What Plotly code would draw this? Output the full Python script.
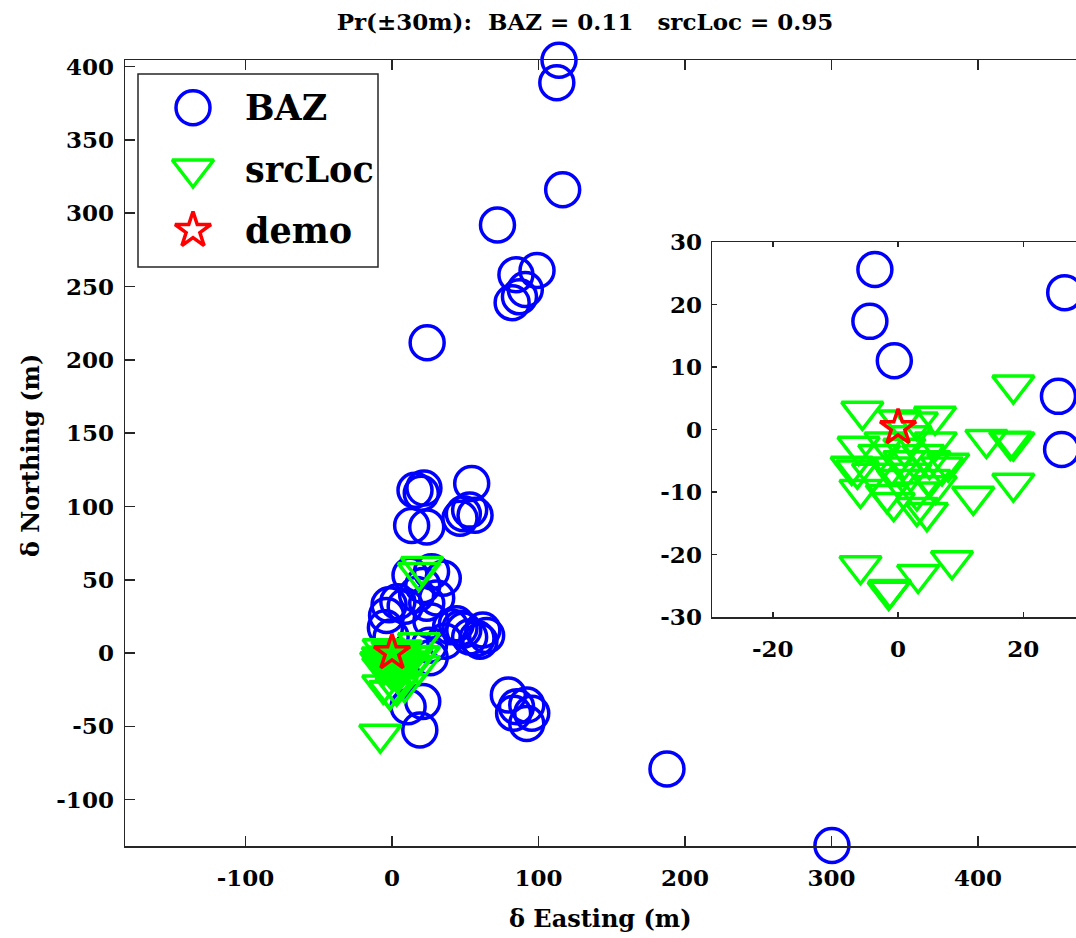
import plotly.graph_objects as go

# ---------------- data ----------------
TITLE = "Pr(±30m):\u00a0\u00a0BAZ = 0.11\u00a0\u00a0\u00a0srcLoc = 0.95"
X_TITLE = "δ Easting (m)"
Y_TITLE = "δ Northing (m)"
LEGEND_LABELS = ["BAZ", "srcLoc", "demo"]

BAZ_EAST = [114, 112.5, 116.5, 72, 84.6, 99, 91, 87, 82, 24,
            15.7, 21.8, 20, 13.4, 23.7, 54.4, 48.7, 53, 56.7, 46.4,
            12.3, 27, 35, 21, 30.5, 23.7, 16.8,
            -2, 4, 9,
            -3.7, -4.5, -0.6, 26.6, 25.6, 26.1,
            36, 40, 44, 46.4, 49, 53, 58, 62, 64.6, 60,
            21, 11, 19,
            79.4, 85, 92, 95.4, 92, 83,
            187.7, 300.3]
BAZ_NORTH = [404.3, 389, 316, 292, 258, 261, 248, 243, 239, 211.6,
             111, 112.5, 109, 87, 86, 115.7, 95, 97.5, 94, 92,
             53, 55.5, 51, 46, 37.5, 34, 40,
             33, 35, 32,
             25.6, 17.3, 11, 21.9, 5.3, -3.2,
             8, 18, 20, 17, 15.7, 11, 10, 15.7, 12, 8,
             -33, -36.6, -52.5,
             -28.6, -36.6, -35.5, -41, -48, -41,
             -79, -131.3]

SRC_EAST = [20.5, 18.4, -8,
            18.4, -5.7, 0.3, 5.9, 3, 14.1, 17.9, 18.4, -6.3, 8,
            -7.4, -6.5, 18.4, 12, -6, -6, -1.3, -1.5, 3.2, 8.6,
            4.6, 3, -0.7, -1.8, -3, -1, 1, 2, 4, 5,
            6, 7, 3, 0, -2, 5, 2, -4, 6, 1]
SRC_NORTH = [59, 55, -55.3,
             7.1, 2.9, 1.5, 2.1, 1.2, -1.6, -1.9, -2.0, -2.7, -5.4,
             -5.9, -6.5, -8.6, -10.7, -9.6, -21.8, -25.6, -25.9, -23.2, -21,
             -13.3, -12.5, -11.7, -10.4, -4, -6, -3, -7, -4, -8,
             -2, -6, -10, -8, -2, -5, -1, -7, -9, -5]

DEMO_EAST = [0.0]
DEMO_NORTH = [0.3]

MAIN_X_TICKS = [-100, 0, 100, 200, 300, 400]
MAIN_Y_TICKS = [-100, -50, 0, 50, 100, 150, 200, 250, 300, 350, 400]
INSET_X_TICKS = [-20, 0, 20]
INSET_Y_TICKS = [-30, -20, -10, 0, 10, 20, 30]

# ---------------- style ----------------
AX_COLOR = "#262626"
TICK_FONT = dict(family="DejaVu Serif", size=23, color="black", weight="bold")
BLUE, GREEN, RED = "#0000FF", "#00FF00", "#FF0000"

W, H = 1076, 938
L, R, T, B = 125, 0, 60, 92


def labels(vals):
    return [str(v) for v in vals]


fig = go.Figure()

series = [
    (BAZ_EAST, BAZ_NORTH, "circle-open", BLUE, 34),
    (SRC_EAST, SRC_NORTH, "triangle-down-open", GREEN, 36),
    (DEMO_EAST, DEMO_NORTH, "star-open", RED, 27),
]
LW = 3.5

for xa, ya in (("x", "y"), ("x2", "y2")):
    for ex, ny, sym, col, sz in series:
        fig.add_trace(go.Scatter(
            x=ex, y=ny, mode="markers", xaxis=xa, yaxis=ya,
            marker=dict(symbol=sym, color=col, size=sz, line=dict(width=LW, color=col)),
            cliponaxis=False, showlegend=False, hoverinfo="skip"))

# custom legend glyphs (large markers like the reference)
n = len(LEGEND_LABELS)
for i, (lab, (ex, ny, sym, col, sz)) in enumerate(zip(LEGEND_LABELS, series)):
    fig.add_trace(go.Scatter(
        x=[0], y=[n - 1 - i], mode="markers", xaxis="x3", yaxis="y3",
        marker=dict(symbol=sym, color=col, size=sz, line=dict(width=LW, color=col)),
        cliponaxis=False, showlegend=False, hoverinfo="skip"))
    fig.add_annotation(text=lab, xref="paper", yref="y3", x=(243 - L) / 951, y=n - 1 - i,
                       xanchor="left", yanchor="middle", showarrow=False,
                       font=dict(family="DejaVu Serif", size=35, color="black", weight="bold"))

axis_common = dict(showline=True, linecolor=AX_COLOR, linewidth=1.5, ticks="inside",
                   tickcolor=AX_COLOR, tickwidth=1.5, showgrid=False, zeroline=False,
                   tickfont=TICK_FONT)

fig.update_layout(
    width=W, height=H,
    margin=dict(l=L, r=R, t=T, b=B, pad=0),
    paper_bgcolor="white", plot_bgcolor="white",
    showlegend=False,
    title=dict(text=TITLE, x=585 / W, y=1 - 22 / H, xanchor="center", yanchor="middle",
               font=dict(family="DejaVu Serif", size=23, color="black", weight="bold")),
    xaxis=dict(domain=[0, 1], range=[-182.25, 466.9], anchor="y", mirror="ticks", ticklen=10,
               tickvals=MAIN_X_TICKS, ticktext=labels(MAIN_X_TICKS), ticklabelstandoff=11,
               **axis_common),
    yaxis=dict(domain=[0, 1], range=[-131.6, 404.5], anchor="x", mirror=False, ticklen=10,
               tickvals=MAIN_Y_TICKS, ticktext=labels(MAIN_Y_TICKS), ticklabelstandoff=5,
               **axis_common),
    xaxis2=dict(domain=[(712 - L) / 951, 1.0], range=[-29.7, 28.4], anchor="y2", mirror="ticks",
                ticklen=5, tickvals=INSET_X_TICKS, ticktext=labels(INSET_X_TICKS),
                ticklabelstandoff=11, **axis_common),
    yaxis2=dict(domain=[(846 - 617) / 786, (846 - 242) / 786], range=[-30, 30], anchor="x2",
                mirror=False, ticklen=5, tickvals=INSET_Y_TICKS, ticktext=labels(INSET_Y_TICKS),
                ticklabelstandoff=4, **axis_common),
    xaxis3=dict(domain=[(173 - L) / 951, (213 - L) / 951], range=[-1, 1], anchor="y3",
                visible=False, fixedrange=True),
    yaxis3=dict(domain=[(846 - 261) / 786, (846 - 77) / 786], range=[-0.5, 2.5], anchor="x3",
                visible=False, fixedrange=True),
)

# legend box
fig.add_shape(type="rect", xref="paper", yref="paper",
              x0=(138 - L) / 951, x1=(378 - L) / 951,
              y0=(846 - 267) / 786, y1=(846 - 74) / 786,
              line=dict(color=AX_COLOR, width=1.5), fillcolor="white", layer="below")

# axis titles
fig.add_annotation(text=X_TITLE, xref="paper", yref="paper", x=(600 - L) / 951,
                   y=(846 - 918) / 786, xanchor="center", yanchor="middle", showarrow=False,
                   font=dict(family="DejaVu Serif", size=24, color="black", weight="bold"))
fig.add_annotation(text=Y_TITLE, xref="paper", yref="paper", x=(31 - L) / 951,
                   y=(846 - 456) / 786, xanchor="center", yanchor="middle", showarrow=False,
                   textangle=-90,
                   font=dict(family="DejaVu Serif", size=24, color="black", weight="bold"))

fig.write_html("out.html",
               config={"displayModeBar": False, "staticPlot": True},
               post_script="document.body.style.margin='0';document.body.style.padding='0';"
                           "document.documentElement.style.overflow='hidden';")
